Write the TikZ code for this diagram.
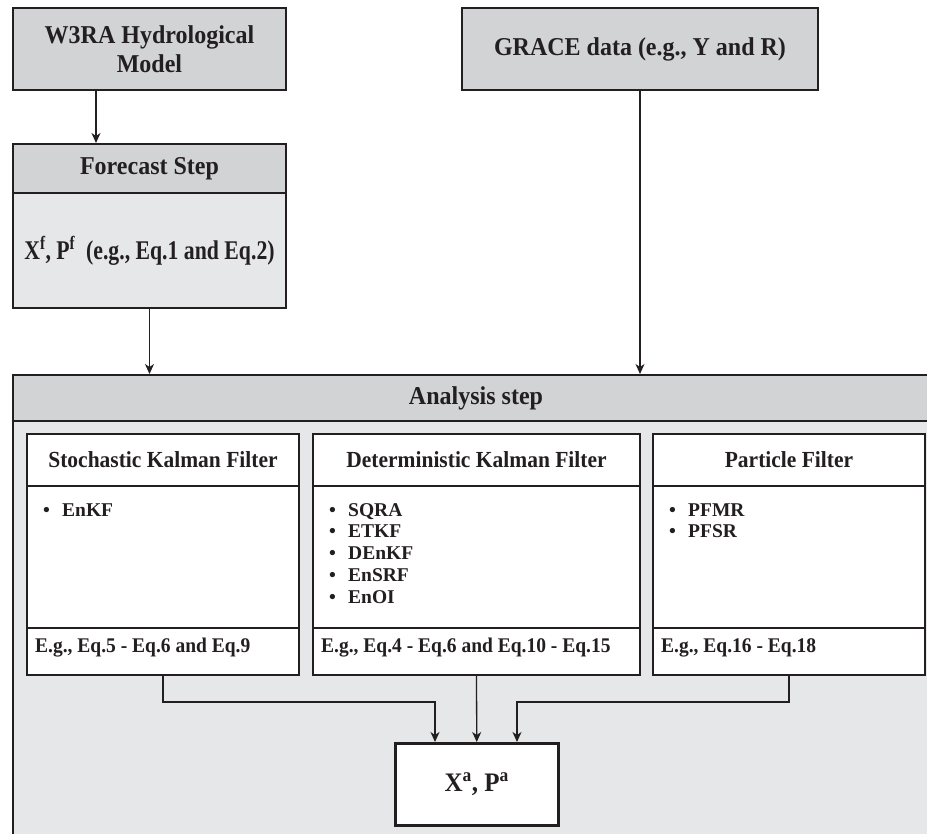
\documentclass[tikz,border=0pt]{standalone}
\usepackage{fontspec}
\setmainfont{Liberation Serif}
\usetikzlibrary{arrows.meta,calc}
\definecolor{bord}{HTML}{231F20}
\definecolor{hd}{HTML}{D1D3D4}
\definecolor{lt}{HTML}{E6E7E8}
\tikzset{
  bx/.style={draw=bord, line width=2pt, inner sep=0pt, anchor=north west, align=center, text=bord},
  arr/.style={draw=bord, line width=1.3pt, -{Stealth[length=10pt,width=9pt,inset=3pt]}},
  big/.style={font=\fontsize{24pt}{28pt}\selectfont\bfseries},
  mid/.style={font=\fontsize{21.5pt}{26pt}\selectfont\bfseries},
  sml/.style={font=\fontsize{19.5pt}{21.8pt}\selectfont\bfseries},
  txt/.style={inner sep=0pt, text=bord, anchor=base west, sml},
}
\newcommand\bul[1]{\makebox[19pt][l]{\textbullet}#1}
\newcommand\vs[1]{\scalebox{1}[1.07]{#1}}
\begin{document}
\begin{tikzpicture}[x=1pt,y=-1pt]
\useasboundingbox (0,0) rectangle (927,834);
\clip (0,0) rectangle (927,834);
\fill[white] (0,0) rectangle (927,834);

% top boxes
\node[bx, fill=hd, big, minimum width=273pt, minimum height=82pt] (w3ra) at (12,7) {\vs{W3RA Hydrological}\\[1pt]\vs{Model}};
\node[bx, fill=hd, big, minimum width=356pt, minimum height=82pt] (grace) at (461,7) {\vs{GRACE data (e.g., Y and R)}};

% forecast
\node[bx, fill=hd, big, minimum width=273pt, minimum height=49pt] (fch) at (12,143) {\vs{Forecast Step}};
\node[bx, fill=lt, minimum width=273pt, minimum height=115pt, font=\fontsize{25pt}{28pt}\selectfont\bfseries] (fcb) at (12,192)
  {\scalebox{0.87}[1.08]{X\textsuperscript{f}, P\textsuperscript{f}\ \ (e.g., Eq.1 and Eq.2)}};

% analysis
\node[bx, fill=lt, minimum width=926pt, minimum height=440pt] (anb) at (12,420) {};
\node[bx, fill=hd, big, minimum width=926pt, minimum height=46pt] (anh) at (12,374) {\vs{Analysis step}};

% stochastic KF
\node[bx, fill=white, minimum width=272pt, minimum height=142pt] (skfb) at (26,485) {};
\node[bx, fill=white, mid, minimum width=272pt, minimum height=52pt] (skfh) at (26,433) {\vs{Stochastic Kalman Filter}};
\node[bx, fill=white, minimum width=272pt, minimum height=47pt] (skff) at (26,627) {};
% deterministic KF
\node[bx, fill=white, minimum width=327pt, minimum height=142pt] (dkfb) at (312,485) {};
\node[bx, fill=white, mid, minimum width=327pt, minimum height=52pt] (dkfh) at (312,433) {\vs{Deterministic Kalman Filter}};
\node[bx, fill=white, minimum width=327pt, minimum height=47pt] (dkff) at (312,627) {};
% particle filter
\node[bx, fill=white, minimum width=272pt, minimum height=142pt] (pfb) at (652,485) {};
\node[bx, fill=white, mid, minimum width=272pt, minimum height=52pt] (pfh) at (652,433) {\vs{Particle Filter}};
\node[bx, fill=white, minimum width=272pt, minimum height=47pt] (pff) at (652,627) {};

% bullet lists
\node[txt] (s1) at ($(skfb.north west)+(17,31)$) {\bul{EnKF}};
\node[txt] (d1) at ($(dkfb.north west)+(17,31)$) {\bul{SQRA}};
\node[txt] (d2) at ($(dkfb.north west)+(17,52.8)$) {\bul{ETKF}};
\node[txt] (d3) at ($(dkfb.north west)+(17,74.6)$) {\bul{DEnKF}};
\node[txt] (d4) at ($(dkfb.north west)+(17,96.4)$) {\bul{EnSRF}};
\node[txt] (d5) at ($(dkfb.north west)+(17,118.2)$) {\bul{EnOI}};
\node[txt] (p1) at ($(pfb.north west)+(17,31)$) {\bul{PFMR}};
\node[txt] (p2) at ($(pfb.north west)+(17,52.8)$) {\bul{PFSR}};

% footers
\node[txt] (sf) at ($(skff.north west)+(9,25.5)$) {\vs{E.g., Eq.5 - Eq.6 and Eq.9}};
\node[txt] (df) at ($(dkff.north west)+(9,25.5)$) {\vs{E.g., Eq.4 - Eq.6 and Eq.10 - Eq.15}};
\node[txt] (pf) at ($(pff.north west)+(9,25.5)$) {\vs{E.g., Eq.16 - Eq.18}};

% result
\node[bx, fill=white, line width=2.5pt, minimum width=163pt, minimum height=82pt, font=\fontsize{25pt}{28pt}\selectfont\bfseries] (xa) at (394,742)
  {\vs{X\textsuperscript{a}, P\textsuperscript{a}}};

% connectors
\coordinate (wx) at (96,0);
\draw[arr] (w3ra.south -| wx) -- (fch.north -| wx);
\draw[arr] (fcb.south) -- (fcb.south |- anh.north);
\draw[arr] (grace.south) -- (grace.south |- anh.north);
\coordinate (jl) at (435,702);
\coordinate (jr) at (517,702);
\draw[arr] (skff.south) |- (jl) -- (jl |- xa.north);
\draw[arr] (dkff.south) -- (xa.north);
\draw[arr] (pff.south) |- (jr) -- (jr |- xa.north);
\end{tikzpicture}
\end{document}
